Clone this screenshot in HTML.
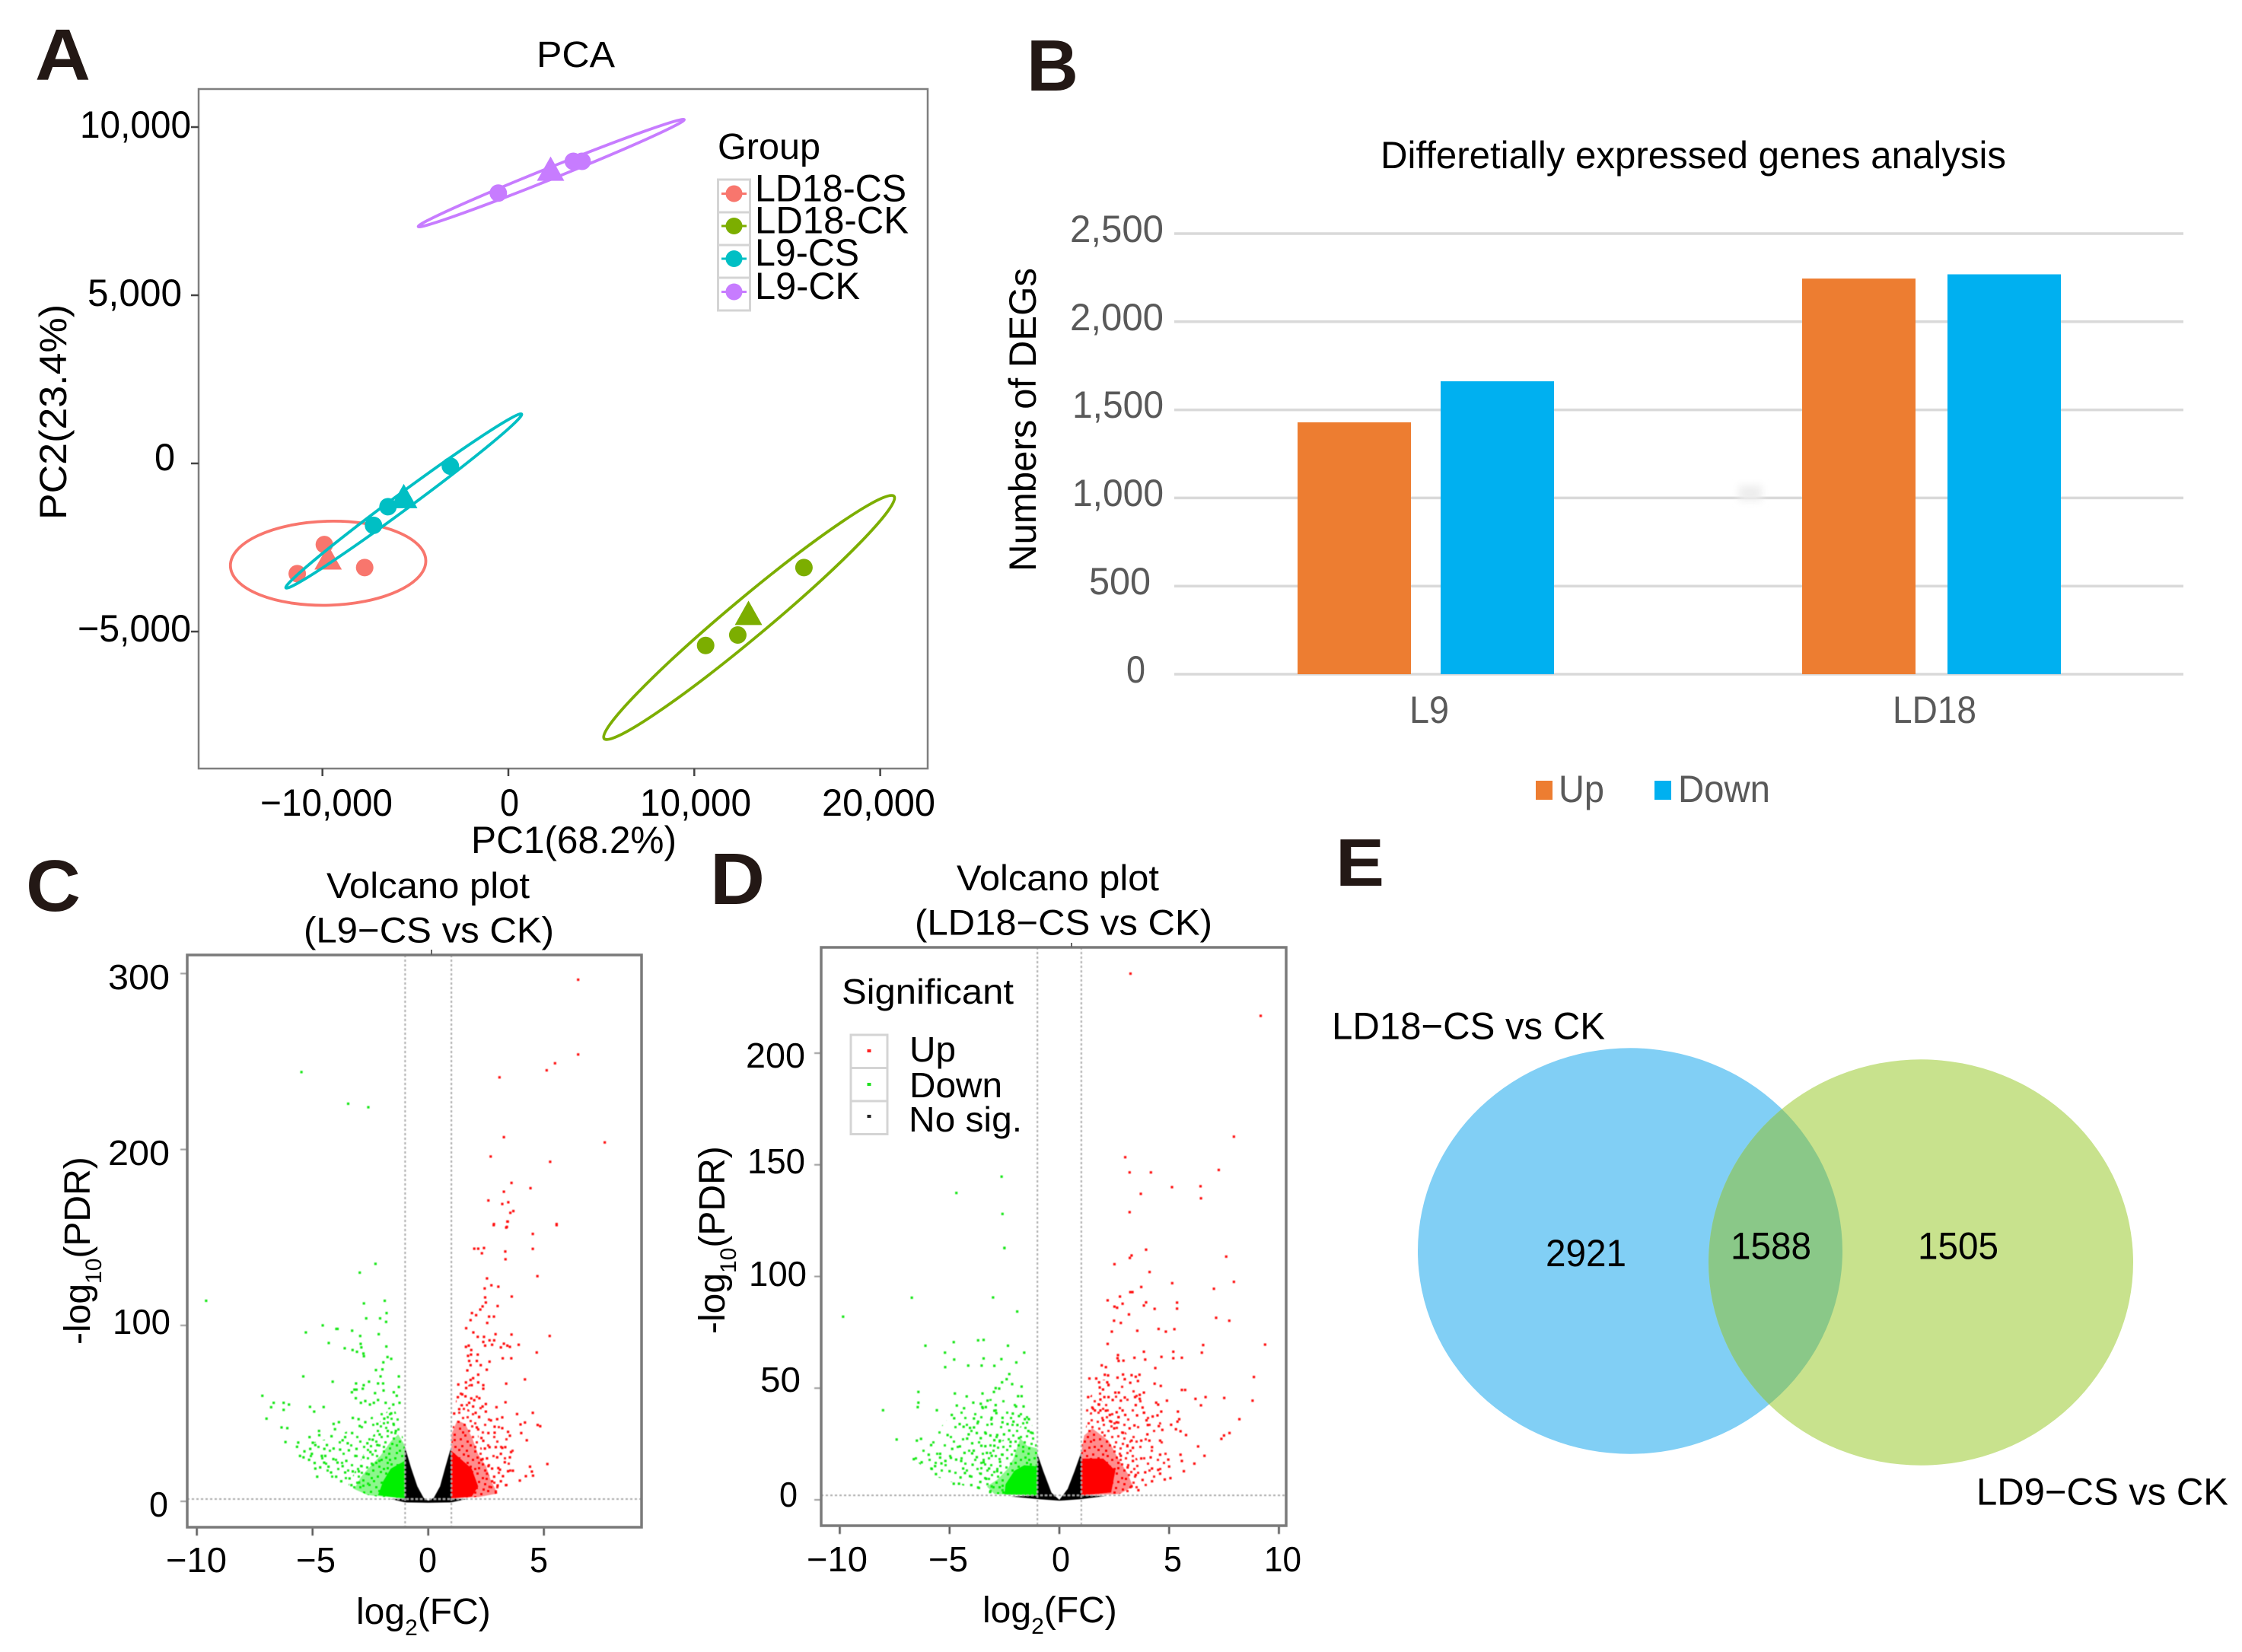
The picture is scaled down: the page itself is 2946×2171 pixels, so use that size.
<!DOCTYPE html>
<html lang="en">
<head>
<meta charset="utf-8">
<title>PCA, DEG, volcano and Venn figure</title>
<style>
html,body{margin:0;padding:0;background:#fff;}
svg{display:block;}
text{font-family:"Liberation Sans",sans-serif;fill:#000;}
.letter{font-weight:bold;fill:#231815;font-size:96px;}
.g{fill:#595959;}
</style>
</head>
<body>
<svg id="fig" xmlns="http://www.w3.org/2000/svg" width="2946" height="2171" viewBox="0 0 2946 2171">
<rect x="0" y="0" width="2946" height="2171" fill="#fff"/>
<defs>
<filter id="smudge" x="-50%" y="-50%" width="200%" height="200%"><feGaussianBlur stdDeviation="5"/></filter>
<filter id="soft" x="-2%" y="-2%" width="104%" height="104%"><feGaussianBlur stdDeviation="0.6"/></filter>
<clipPath id="venn-clip"><ellipse cx="2142" cy="1644" rx="279" ry="266.7"/></clipPath>
<path id="tileA" d="M7 2h3v3h-3zM23 9h3v3h-3zM41 4h3v3h-3zM54 14h3v3h-3zM15 19h3v3h-3zM33 21h3v3h-3zM48 27h3v3h-3zM4 30h3v3h-3zM25 34h3v3h-3zM40 38h3v3h-3zM57 40h3v3h-3zM12 45h3v3h-3zM30 49h3v3h-3zM47 52h3v3h-3zM2 55h3v3h-3zM20 57h3v3h-3zM36 11h3v3h-3zM9 11h3v3h-3zM52 33h3v3h-3zM28 1h3v3h-3z"/>
<path id="tileB" d="M17 6h3v3h-3zM33 3h3v3h-3zM49 9h3v3h-3zM3 16h3v3h-3zM26 15h3v3h-3zM42 17h3v3h-3zM56 24h3v3h-3zM10 25h3v3h-3zM20 27h3v3h-3zM36 29h3v3h-3zM50 41h3v3h-3zM6 39h3v3h-3zM17 38h3v3h-3zM31 42h3v3h-3zM44 45h3v3h-3zM55 50h3v3h-3zM23 46h3v3h-3zM8 50h3v3h-3zM38 55h3v3h-3zM26 54h3v3h-3z"/>
<path id="tileC" d="M1 7h3v3h-3zM13 1h3v3h-3zM28 8h3v3h-3zM45 13h3v3h-3zM38 22h3v3h-3zM53 5h3v3h-3zM19 13h3v3h-3zM7 21h3v3h-3zM28 26h3v3h-3zM44 33h3v3h-3zM13 33h3v3h-3zM34 36h3v3h-3zM50 19h3v3h-3zM23 40h3v3h-3zM2 44h3v3h-3zM40 48h3v3h-3zM52 56h3v3h-3zM14 52h3v3h-3zM31 57h3v3h-3zM56 31h3v3h-3z"/>
<pattern id="up-sparse" width="60" height="60" patternUnits="userSpaceOnUse"><use href="#tileA" fill="#ff2020"/></pattern>
<pattern id="up-mid" width="60" height="60" patternUnits="userSpaceOnUse"><use href="#tileB" fill="#ff2020"/><use href="#tileC" fill="#ff2020"/></pattern>
<pattern id="up-dense" width="60" height="60" patternUnits="userSpaceOnUse"><rect width="60" height="60" fill="#ff3030" fill-opacity="0.55"/><use href="#tileA" fill="#ff0000"/><use href="#tileB" fill="#ff0000"/><use href="#tileC" fill="#ff0000"/></pattern>
<pattern id="down-sparse" width="60" height="60" patternUnits="userSpaceOnUse"><use href="#tileA" fill="#22e822"/></pattern>
<pattern id="down-mid" width="60" height="60" patternUnits="userSpaceOnUse"><use href="#tileB" fill="#22e822"/><use href="#tileC" fill="#22e822"/></pattern>
<pattern id="down-dense" width="60" height="60" patternUnits="userSpaceOnUse"><rect width="60" height="60" fill="#30ee30" fill-opacity="0.55"/><use href="#tileA" fill="#00ee00"/><use href="#tileB" fill="#00ee00"/><use href="#tileC" fill="#00ee00"/></pattern>
</defs>

<!-- Panel A -->
<g>
<text class="letter" x="46" y="105" textLength="73" lengthAdjust="spacingAndGlyphs">A</text>
<text x="705" y="88" font-size="48" textLength="103" lengthAdjust="spacingAndGlyphs">PCA</text>
<rect x="261" y="117" width="958" height="893" fill="none" stroke="#7f7f7f" stroke-width="2.5"/>
<g id="pca-ticks"></g>
<g id="pca-marks"></g>
<g font-size="50">
<text x="105" y="181" textLength="146" lengthAdjust="spacingAndGlyphs">10,000</text>
<text x="115" y="402" textLength="124" lengthAdjust="spacingAndGlyphs">5,000</text>
<text x="203" y="618" textLength="27" lengthAdjust="spacingAndGlyphs">0</text>
<text x="102" y="843" textLength="149" lengthAdjust="spacingAndGlyphs">−5,000</text>
<text x="342" y="1072" textLength="174" lengthAdjust="spacingAndGlyphs">−10,000</text>
<text x="657" y="1072" textLength="25" lengthAdjust="spacingAndGlyphs">0</text>
<text x="841" y="1072" textLength="146" lengthAdjust="spacingAndGlyphs">10,000</text>
<text x="1080" y="1072" textLength="149" lengthAdjust="spacingAndGlyphs">20,000</text>
<text x="619" y="1121" textLength="270" lengthAdjust="spacingAndGlyphs">PC1(68.2%)</text>
<text x="87" y="683" transform="rotate(-90 87 683)" textLength="283" lengthAdjust="spacingAndGlyphs">PC2(23.4%)</text>
</g>
<g>
<text x="943" y="209" font-size="48" textLength="135" lengthAdjust="spacingAndGlyphs">Group</text>
<rect x="943.500" y="236" width="42" height="43" fill="#fff" stroke="#d4d4d4" stroke-width="3"/>
<rect x="943.500" y="279" width="42" height="43" fill="#fff" stroke="#d4d4d4" stroke-width="3"/>
<rect x="943.500" y="322" width="42" height="43" fill="#fff" stroke="#d4d4d4" stroke-width="3"/>
<rect x="943.500" y="365" width="42" height="43" fill="#fff" stroke="#d4d4d4" stroke-width="3"/>
<path d="M948 254.500H981" stroke="#F8766D" stroke-width="3"/>
<circle cx="964.500" cy="254.500" r="11" fill="#F8766D"/>
<path d="M948 297H981" stroke="#7CAE00" stroke-width="3"/>
<circle cx="964.500" cy="297" r="11" fill="#7CAE00"/>
<path d="M948 340H981" stroke="#00BFC4" stroke-width="3"/>
<circle cx="964.500" cy="340" r="11" fill="#00BFC4"/>
<path d="M948 383.500H981" stroke="#C77CFF" stroke-width="3"/>
<circle cx="964.500" cy="383.500" r="11" fill="#C77CFF"/>
<text x="992" y="264.500" font-size="50" textLength="199" lengthAdjust="spacingAndGlyphs">LD18-CS</text>
<text x="992" y="306.500" font-size="50" textLength="202" lengthAdjust="spacingAndGlyphs">LD18-CK</text>
<text x="992" y="349" font-size="50" textLength="137" lengthAdjust="spacingAndGlyphs">L9-CS</text>
<text x="992" y="393" font-size="50" textLength="138" lengthAdjust="spacingAndGlyphs">L9-CK</text>
</g>
</g>

<!-- Panel B -->
<g>
<text class="letter" x="1349" y="119" textLength="68" lengthAdjust="spacingAndGlyphs">B</text>
<text x="1814" y="221" font-size="50" textLength="822" lengthAdjust="spacingAndGlyphs">Differetially expressed genes analysis</text>
<g id="deg-grid"></g>
<rect x="2285" y="638" width="30" height="20" fill="#ededed" filter="url(#smudge)"/>
<g id="deg-bars"></g>
<g font-size="50" class="g">
<text class="g" x="1406" y="318" textLength="123" lengthAdjust="spacingAndGlyphs">2,500</text>
<text class="g" x="1406" y="434" textLength="123" lengthAdjust="spacingAndGlyphs">2,000</text>
<text class="g" x="1409" y="549" textLength="120" lengthAdjust="spacingAndGlyphs">1,500</text>
<text class="g" x="1409" y="665" textLength="120" lengthAdjust="spacingAndGlyphs">1,000</text>
<text class="g" x="1431" y="781" textLength="81" lengthAdjust="spacingAndGlyphs">500</text>
<text class="g" x="1480" y="897" textLength="25" lengthAdjust="spacingAndGlyphs">0</text>
<text class="g" x="1852" y="950" textLength="52" lengthAdjust="spacingAndGlyphs">L9</text>
<text class="g" x="2487" y="950" textLength="110" lengthAdjust="spacingAndGlyphs">LD18</text>
<text class="g" x="2048" y="1054" textLength="60" lengthAdjust="spacingAndGlyphs">Up</text>
<text class="g" x="2205" y="1054" textLength="121" lengthAdjust="spacingAndGlyphs">Down</text>
</g>
<rect x="2018" y="1026" width="22" height="25" fill="#ed7d31"/>
<rect x="2174" y="1026" width="22" height="25" fill="#00b0f0"/>
<text x="1361" y="751" transform="rotate(-90 1361 751)" font-size="50" textLength="399" lengthAdjust="spacingAndGlyphs">Numbers of DEGs</text>
</g>

<!-- Panel C -->
<g>
<text class="letter" x="34" y="1197" textLength="72" lengthAdjust="spacingAndGlyphs">C</text>
<text x="429" y="1180" font-size="47" textLength="267" lengthAdjust="spacingAndGlyphs">Volcano plot</text>
<text x="399" y="1238.500" font-size="47" textLength="329" lengthAdjust="spacingAndGlyphs">(L9−CS vs CK)</text>
<g id="c-plot" filter="url(#soft)"></g>
<rect x="246" y="1255" width="597" height="752" fill="none" stroke="#7a7a7a" stroke-width="3.500"/>
<line x1="567" x2="567" y1="1248" y2="1255" stroke="#666" stroke-width="2"/>
<g font-size="46">
<text x="142" y="1300" textLength="81" lengthAdjust="spacingAndGlyphs">300</text>
<text x="142" y="1531" textLength="81" lengthAdjust="spacingAndGlyphs">200</text>
<text x="148" y="1753" textLength="76" lengthAdjust="spacingAndGlyphs">100</text>
<text x="196" y="1993" textLength="25" lengthAdjust="spacingAndGlyphs">0</text>
<text x="218" y="2066" textLength="80" lengthAdjust="spacingAndGlyphs">−10</text>
<text x="389" y="2066" textLength="52" lengthAdjust="spacingAndGlyphs">−5</text>
<text x="550" y="2066" textLength="24" lengthAdjust="spacingAndGlyphs">0</text>
<text x="696" y="2066" textLength="24" lengthAdjust="spacingAndGlyphs">5</text>
</g>
<text x="468" y="2134" font-size="48">log<tspan font-size="30" dy="15">2</tspan><tspan dy="-15">(FC)</tspan></text>
<text x="118" y="1767" transform="rotate(-90 118 1767)" font-size="48">-log<tspan font-size="30" dy="15">10</tspan><tspan dy="-15">(PDR)</tspan></text>
</g>

<!-- Panel D -->
<g>
<text class="letter" x="933" y="1188" textLength="72" lengthAdjust="spacingAndGlyphs">D</text>
<text x="1257" y="1170" font-size="47" textLength="266" lengthAdjust="spacingAndGlyphs">Volcano plot</text>
<text x="1202" y="1228.500" font-size="47" textLength="391" lengthAdjust="spacingAndGlyphs">(LD18−CS vs CK)</text>
<g id="d-plot" filter="url(#soft)"></g>
<rect x="1079" y="1245" width="611" height="760" fill="none" stroke="#7a7a7a" stroke-width="3.500"/>
<line x1="1408" x2="1408" y1="1239" y2="1245" stroke="#666" stroke-width="2"/>
<g font-size="46">
<text x="980" y="1403" textLength="78" lengthAdjust="spacingAndGlyphs">200</text>
<text x="982" y="1542" textLength="76" lengthAdjust="spacingAndGlyphs">150</text>
<text x="984" y="1690" textLength="76" lengthAdjust="spacingAndGlyphs">100</text>
<text x="999" y="1829" textLength="53" lengthAdjust="spacingAndGlyphs">50</text>
<text x="1024" y="1980" textLength="24" lengthAdjust="spacingAndGlyphs">0</text>
<text x="1060" y="2065" textLength="80" lengthAdjust="spacingAndGlyphs">−10</text>
<text x="1220" y="2065" textLength="52" lengthAdjust="spacingAndGlyphs">−5</text>
<text x="1382" y="2065" textLength="24" lengthAdjust="spacingAndGlyphs">0</text>
<text x="1529" y="2065" textLength="24" lengthAdjust="spacingAndGlyphs">5</text>
<text x="1661" y="2065" textLength="49" lengthAdjust="spacingAndGlyphs">10</text>
</g>
<text x="1291" y="2132" font-size="48">log<tspan font-size="30" dy="15">2</tspan><tspan dy="-15">(FC)</tspan></text>
<text x="952" y="1753" transform="rotate(-90 952 1753)" font-size="48">-log<tspan font-size="30" dy="15">10</tspan><tspan dy="-15">(PDR)</tspan></text>
<g>
<text x="1106" y="1319" font-size="46" textLength="226" lengthAdjust="spacingAndGlyphs">Significant</text>
<rect x="1118" y="1360" width="48" height="43.500" fill="#fff" stroke="#d4d4d4" stroke-width="3"/>
<rect x="1118" y="1403.500" width="48" height="43.500" fill="#fff" stroke="#d4d4d4" stroke-width="3"/>
<rect x="1118" y="1447" width="48" height="43.500" fill="#fff" stroke="#d4d4d4" stroke-width="3"/>
<rect x="1139.500" y="1379" width="5" height="4" fill="#ff2020"/>
<rect x="1139.500" y="1423" width="5" height="4" fill="#20e020"/>
<rect x="1139.500" y="1465" width="5" height="4" fill="#222"/>
<text x="1195" y="1395" font-size="46" textLength="61" lengthAdjust="spacingAndGlyphs">Up</text>
<text x="1195" y="1442" font-size="46" textLength="122" lengthAdjust="spacingAndGlyphs">Down</text>
<text x="1194" y="1487" font-size="46" textLength="149" lengthAdjust="spacingAndGlyphs">No sig.</text>
</g>
</g>

<!-- Panel E -->
<g>
<text class="letter" x="1755" y="1164" textLength="64" lengthAdjust="spacingAndGlyphs" style="font-size:88px">E</text>
<ellipse cx="2142" cy="1644" rx="279" ry="266.7" fill="#81cff5"/>
<ellipse cx="2524" cy="1659" rx="279" ry="266.7" fill="#c8e28d"/>
<ellipse cx="2524" cy="1659" rx="279" ry="266.7" fill="#8ac888" clip-path="url(#venn-clip)"/>
<text x="1750" y="1365.500" font-size="50" textLength="359" lengthAdjust="spacingAndGlyphs">LD18−CS vs CK</text>
<text x="2597" y="1977.500" font-size="50" textLength="331" lengthAdjust="spacingAndGlyphs">LD9−CS vs CK</text>
<text x="2031" y="1664" font-size="50" textLength="106" lengthAdjust="spacingAndGlyphs">2921</text>
<text x="2274" y="1654.500" font-size="50" textLength="106" lengthAdjust="spacingAndGlyphs">1588</text>
<text x="2520" y="1654.500" font-size="50" textLength="106" lengthAdjust="spacingAndGlyphs">1505</text>
</g>
</svg>

<script>
/* ---------- Panel A data ---------- */
const pcaGroups = ['LD18-CS', 'LD18-CK', 'L9-CS', 'L9-CK'];
const pcaColors = ['#F8766D', '#7CAE00', '#00BFC4', '#C77CFF'];
const pcaXTicks = [-10000, 0, 10000, 20000];
const pcaYTicks = [10000, 5000, 0, -5000];
const pcaPc1 = [[-11356, -9898, -7729], [10610, 12339, 15898], [-7254, -6475, -3119], [-542, 3492, 3966]];
const pcaPc2 = [[-3277, -2413, -3097], [-5412, -5103, -3097], [-1842, -1288, -82], [8037, 8983, 8983]];
const pcaCentroidPc1 = [-9695, 12915, -5627, 2271];
const pcaCentroidPc2 = [-2885, -4532, -1060, 8673];
const ellipseTipAPc1 = [-14949, 5153, -11966, -4847];
const ellipseTipAPc2 = [-3049, -8184, -3701, 7042];
const ellipseTipBPc1 = [-4441, 20746, 712, 9458];
const ellipseTipBPc2 = [-2886, -978, 1467, 10222];
const ellipseAspect = [0.43, 0.103, 0.055, 0.04];

/* ---------- Panel B data ---------- */
const degCategories = ['L9', 'LD18'];
const degUp = [1429, 2245];
const degDown = [1662, 2269];
const degTicks = [0, 500, 1000, 1500, 2000, 2500];

/* ---------- Panel C data (log2FC, -log10 PDR) ---------- */
const cXTicks = [-10, -5, 0, 5];
const cYTicks = [0, 100, 200, 300];
const cFcCutoff = [-1, 1];
const cPCutoff = 1.3;
const cUpPoints = [[6.48,296.5],[6.48,254],[5.48,249],[5.12,245],[3.08,241],[7.63,204],[3.27,207],[2.7,196],[5.27,193],[3.6,181],[4.42,178],[3.27,176],[2.6,171],[3.46,170],[3.2,169],[3.68,165],[3.55,164],[2.83,157],[3.44,159],[3.4,156],[5.55,157],
[2.84,157.6],[3.42,159],[3.37,155.6],[5.55,157.6],[4.52,152],[4.52,143.5],[1.99,143.6],[2.16,143.6],[2.41,144],[2.32,141],[3.33,142],[3.34,137.6],[4.72,128],[2.54,126.7],[2.44,121],[2.73,122.8],[3.03,122],[3.61,116.4],[2.46,115.9],[2.49,113],[3,111],[2.35,110.8],[2.25,109],[1.89,107],[2.07,105.8],[2.63,105],[2.84,105],[1.83,103],[2.55,101.4],[1.64,98.4],[1.95,96],[2.91,95],[3.6,94.8],[5.25,94],[2.14,93.5],[2.41,93.5],[2.65,91.5],[2.85,91.5],[2.38,90.6],[3.27,89.6],[3.42,88.5],[3.53,87.8],[3.91,89],[2.46,88.5],[2.76,89],[3.14,87.5],[1.63,87.8],[1.75,88.5],[1.86,86],[4.69,84.6],[1.72,82.7],[1.85,83.4],[2.14,83.4],[3.22,81.3],[3.59,81.3],[1.77,79.8],[2.65,79.4],[2.1,79.8],[2.27,77.4],[1.83,77.4],[1.69,74.4],[2.53,74.8],[2.16,72],[1.94,70],[1.83,69],[4.18,69.3],[1.63,67.6],[3.37,66.9],[1.3,66.4],[2.38,66],[2.16,67.6],[1.64,64.4],[2.38,64],[1.88,66],[1.47,60.8],[1.61,59.7],[1.28,59.2],[1.86,58.5],[2.21,58.6],[1.99,57.5],[3.34,56.3],[1.45,54.6],[1.77,56],[2.49,55.3],[2.35,53.9],[2.95,53.5],[1.34,52.4],[1.94,53.9],[2.49,51],[4.52,50.3],[3.84,49.6],[1.12,49.9],[2.05,50.3],[3.2,47.7],[2.98,46.7],[2.71,46],[4.18,44.8],[3.99,43.7],[4.73,43.4],[4.84,42.7],[2.87,42.4],[2.16,40.9],[2.6,38.8],[2.87,39],[3.2,41.6],[3.45,39.5],[3.53,37.3],[4.02,38.8],[4.26,34.7],[2.38,34.4],[2.65,30.8],[2.92,30.8],[3.33,30.8],[3.2,30.4],[3.58,28],[2.98,25],[3.14,27],[3.53,25],[2.54,24.4],[5.15,21.2],[3.31,22.2],[2.76,18.6],[3.03,18.9],[3.45,17.1],[3.66,17.4],[4.4,19.7],[4.48,16.9],[4.53,14.6],[4.22,14.3],[3.96,11.8],[3.23,14.3],[2.54,15.7],[2.76,11.4],[3.14,11.4],[3.36,9.2],[2.92,5.6],[2.65,8.2],[2.1,42],[2.3,36],[2.45,30],[2.2,48],[2.35,24],[2.6,20],[2.85,14],[3,9],[3.1,18]];
const cDownPoints = [[-5.48,244],[-3.46,226],[-2.59,224],[-9.6,114],
[-2.28,135],[-2.96,130],[-2.78,112.5],[-1.88,114],[-1.8,107],[-1.82,102],[-2.08,104],[-2.68,104],[-4.56,100],[-5.29,96],[-3.92,98],[-3.97,98],[-3.29,97],[-2.94,94],[-2.14,95],[-4.3,90],[-2.92,89.5],[-2.89,87.5],[-1.81,88],[-3.61,87],[-3.27,86],[-3.08,85],[-2.8,84],[-2.78,82.5],[-1.76,82],[-1.6,81],[-1.94,79],[-1.98,75],[-2.26,74.6],[-2.06,71],[-5.4,71],[-1.27,71],[-4.13,68],[-3.12,67],[-2.79,66],[-2.83,64],[-2.17,67],[-2.56,68],[-1.95,67],[-1.27,65],[-3.19,63.5],[-3.1,63.5],[-3.3,62],[-2.3,61.5],[-1.49,62],[-1.36,60],[-1.93,63],[-3.13,58.6],[-2.17,57.6],[-2.91,56],[-2.72,57],[-2.52,55],[-2.35,56],[-1.84,56],[-1.51,55],[-1.24,56],[-7.17,60],[-6.68,56],[-6.25,56],[-6.02,55],[-6.79,53.5],[-6.25,52],[-5.11,53.7],[-4.52,53.6],[-4.93,51],[-6.99,47],[-6.34,42],[-6.09,41.6],[-6.17,33.7],[-5.62,33.4],[-5.67,31],[-5.13,36.5],[-4.72,40],[-4.71,37.6],[-4.09,44],[-3.86,45],[-4.03,41],[-3.26,47.4],[-3.01,46.7],[-2.96,42.8],[-2.72,45],[-3.29,38.8],[-4.18,37],[-3.59,36.5],[-3.7,34.7],[-4.99,33.3],[-4.88,32],[-4.49,29.8],[-4.38,32],[-5.1,29.8],[-5.35,28.4],[-5.54,25.8],[-5.39,25],[-5.15,23.6],[-5.03,27],[-4.6,25.8],[-4.45,25.8],[-4.09,30],[-3.81,29.4],[-3.48,33],[-3.43,29],[-3.1,29.8],[-2.63,33],[-4.91,21.8],[-4.88,18.6],[-4.67,19.3],[-4.31,19.7],[-3.92,22],[-3.54,23],[-3.15,25.8],[-2.88,20],[-4.2,16.4],[-3.98,14],[-3.59,16.4],[-3.26,17],[-3.76,11.4],[-3.32,9.2],[-2.99,10.7],[-2.66,15.7],[-2.39,20.7],[-2.11,23],[-1.6,50],[-1.9,47],[-2.2,44],[-1.5,44],[-1.75,40],[-2.1,38],[-2.4,35],[-1.4,40],[-2.5,28],[-2.2,32],[-2.8,25],[-3,17],[-3.4,13],[-3.7,20],[-4.1,24],[-4.5,22],[-4.8,14],[-2.6,10]];
const cNoSigEnvelope = [[-1.02,31.5],[-0.74,19],[-0.47,8.5],[-0.2,2],[0,0.3],[0.24,2],[0.51,8.5],[0.73,19],[0.99,31],[1,1.6],[1.66,1.3],[1,-0.6],[0,-0.8],[-1,-0.6],[-1.62,1.3],[-1.02,1.6]];
const cDownSparse = [[-5.56,25],[-4.91,17.9],[-4.03,10.7],[-3.15,6.3],[-2.06,2],[-1.02,1.6],[-1.02,31.6],[-1.4,54.6],[-2.06,51.7],[-3.15,41.6],[-4.25,35.9],[-5.13,33]];
const cDownMid = [[-3.48,8.5],[-2.17,2.7],[-1.02,1.6],[-1.02,31.6],[-1.51,56],[-2.06,46],[-2.5,34.4],[-2.94,22.9]];
const cDownOuter = [[-1.02,1.6],[-2.6,3.5],[-3.2,7],[-2.9,14],[-2.5,20],[-2.06,26],[-1.62,34],[-1.3,38],[-1.02,32]];
const cDownCore = [[-1.02,1.6],[-2.17,3.5],[-1.95,11.4],[-1.62,18.6],[-1.02,23]];
const cUpSparse = [[1.01,1.6],[1.88,2.7],[2.87,4.9],[3.42,8.5],[3.75,17],[3.75,31.6],[2.98,46],[2.43,57.5],[1.88,67.6],[1.23,60.4],[1.01,37.3]];
const cUpMid = [[1.01,1.6],[2.32,3.5],[2.76,8.5],[2.43,24.4],[1.99,46],[1.56,57.5],[1.17,51.7],[1.01,37.3]];
const cUpOuter = [[1,1.6],[2.2,2.5],[3,4.5],[2.7,12],[2.5,20],[2.15,27],[1.9,36],[1.6,44],[1.25,46],[1,38]];
const cUpCore = [[1,1.6],[1.88,2.7],[2.16,8.5],[1.88,18.6],[1,28.7]];

/* ---------- Panel D data (log2FC, -log10 PDR) ---------- */
const dXTicks = [-10, -5, 0, 5, 10];
const dYTicks = [0, 50, 100, 150, 200];
const dFcCutoff = [-1, 1];
const dPCutoff = 2;
const dUpPoints = [[3.24,235.6],[9.17,216.7],[7.95,162.6],[3,153.4],[7.26,147.7],[3.2,146.6],[4.17,146.6],[5.13,140],[6.43,140.4],[3.71,137],[6.45,135],[3.2,128.8],
[3.95,112],[7.6,108.9],[3.29,109.4],[3.21,108.3],[2.51,105.5],[4.11,102],[7.95,97.6],[5.14,97],[7.04,94.5],[3.73,95.3],[3.23,93],[3.33,93],[2.76,91],[2.2,89.3],[2.88,87.8],[3.95,88.4],[3.85,87],[2.51,86.5],[2.63,86],[5.36,88.3],[5.36,85.6],[4.34,85.5],[3.17,83],[7.14,81.5],[7.74,80.2],[2.49,80.2],[2.8,79.2],[2.39,75.3],[3.55,75.7],[4.52,76.5],[4.85,75.3],[5.24,76.4],[2.2,69.8],[6.55,69.3],[9.37,69.5],[6.49,65.9],[3.85,66.3],[2.67,64.8],[2.65,63.4],[3.42,63.6],[4.65,64],[5.19,66.3],[5.19,63.4],[5.58,63.6],[2.92,62.3],[2.7,62.2],[3.91,62.8],[1.93,60.2],[2.12,59.4],[4.37,59],[2.07,56],[2.22,55.7],[2.9,56.1],[3.29,55.8],[3.48,55.1],[3.65,56],[1.37,54.3],[1.68,54.3],[1.81,52.6],[2.65,54.7],[2.98,54],[8.86,55],[2.18,52.6],[3.23,52.4],[3.58,53.2],[4.34,52],[4.62,51],[1.84,50.3],[1.99,49.4],[2.24,51.5],[5.58,49.2],[5.73,49.2],[2.55,48],[2.71,48],[3.85,48],[3.66,47],[6.2,45.2],[6.66,46],[7.51,45.6],[8.8,44.4],[1.31,46],[2.05,46],[2.24,46],[2.98,45.8],[3.45,46],[1.87,44.9],[2.43,44.7],[2.8,44.4],[3.66,45.2],[4.41,43.5],[4.9,44.4],[4.5,42.6],[6.45,42.3],[1.81,42.6],[1.5,41.3],[3.48,42.4],[3.79,41.3],[1.62,40],[1.87,40],[2.12,39.9],[2.88,40],[2.61,39.2],[4.64,39.5],[5.4,39.5],[3.85,39],[3.54,37.8],[4.47,37.8],[4.25,37.3],[8.2,36.1],[5.46,36.1],[5.38,35],[3.97,35.6],[1.99,35.6],[2.36,35],[2.61,34.7],[5.09,33.6],[4.53,33],[3.42,33.3],[4.03,33.5],[4.69,31.3],[5.31,31.6],[5.52,30.7],[5.77,29],[7.75,29.9],[7.5,28.8],[7.38,27.3],[4.01,29.3],[4.59,26.5],[4.1,26.5],[3.73,26.5],[3.29,26.5],[6.32,23.9],[4.22,23.6],[3.35,23.3],[5.52,20.2],[6.61,19.7],[4.59,20.2],[4.16,19],[4.96,18],[5,14.9],[5.58,17.4],[6.15,16.2],[4.5,13.4],[5.67,12.8],[4.22,14],[4.59,11.7],[4.8,9.1],[5.06,9.7],[4.22,8.3],[3.79,8.9],[3.6,4.3],[3.91,12.3],[3.35,17.4],[3.73,18.5],[3.11,14.5],[2.8,19.7],[3.48,11.1],[3.29,6],[2.9,30],[3.1,24],[2.5,32],[2.7,37],[3,38],[3.2,32],[2.3,38]];
const dDownPoints = [[-2.63,144.7],[-4.69,137.4],[-2.59,128],[-2.5,112.8],[-9.85,82],
[-2.5,112.7],[-6.72,90.5],[-3.02,90.6],[-1.92,84.3],[-6.1,69],[-4.81,70.6],[-3.7,71.4],[-3.45,71.6],[-2.34,69],[-5.21,65.9],[-1.6,65.9],[-4.79,62.8],[-3.45,63.3],[-2.64,63],[-1.96,61.5],[-5.2,59.4],[-4.15,60.1],[-3.54,60.1],[-2.96,60],[-2.28,56.3],[-2.4,54],[-2.61,52.6],[-2.15,51.8],[-1.72,50.7],[-2.9,50],[-2.74,49.8],[-2.98,48.3],[-6.42,48.3],[-4.76,47.6],[-3.5,47.6],[-4.22,46.3],[-1.88,46.4],[-1.72,46.4],[-6.42,43.5],[-6.45,41.5],[-3.92,43.5],[-3.58,43],[-3.27,44.4],[-4.67,42.2],[-4.34,41],[-3.51,41.5],[-3.35,41.5],[-2.9,42.4],[-1.97,41.8],[-1.63,41.8],[-8.03,40.1],[-5.58,40.1],[-2.96,39.9],[-2.87,38.8],[-4.9,38],[-2.12,38.6],[-1.84,37.5],[-4.79,36.5],[-3.89,36.4],[-3.08,36.7],[-2.59,36.7],[-1.57,36.1],[-1.39,36.1],[-3.7,35],[-3.08,33.9],[-2.59,34.7],[-2.09,35],[-2.36,33.9],[-4.54,33.9],[-4.36,32.7],[-4.07,32.2],[-3.89,32.4],[-1.91,33.5],[-1.41,30.8],[-2.28,31],[-4.13,29.3],[-3.76,29.9],[-3.35,29.7],[-5.09,29],[-3.14,28.8],[-2.83,29],[-2.52,29.3],[-1.23,29.9],[-7.41,27],[-6.49,26.5],[-6.3,27.3],[-4.2,27.4],[-3.58,27.6],[-2.96,26.7],[-2.71,26.5],[-5.84,24.5],[-3.97,25.3],[-3.55,24.2],[-3.37,24],[-2.22,25.9],[-1.84,27.6],[-4.88,22.8],[-5.95,20.2],[-5.43,20.6],[-4.32,21],[-3.97,20.8],[-2.96,24.2],[-4.53,23.9],[-4.94,18.8],[-5.43,18.9],[-6.63,18.2],[-6.27,16.8],[-5.19,17.4],[-4.47,17.4],[-3.76,19.1],[-3.08,19.7],[-2.59,20.2],[-5.83,14],[-5.66,15.1],[-5.62,11.5],[-5.37,16.3],[-5,12.8],[-4.38,14],[-3.95,15.7],[-3.45,16.8],[-4.5,10],[-4.07,10.6],[-3.58,11.7],[-4.81,7.2],[-4.57,7.2],[-4.01,6.6],[-3.7,5.5],[-3.33,9.4],[-3.08,6],[-2.83,12.8],[-2.59,4.3],[-3.2,14],[-3.6,8],[-4.3,12],[-4.7,18],[-3.9,22],[-3.3,21],[-2.7,17],[-3.15,3.5]];
const dNoSigEnvelope = [[-1.01,20.8],[-0.73,12.8],[-0.36,3.2],[0,0],[0.38,4.9],[0.69,12.8],[1,21.4],[1,2],[2.1,1.7],[1,0.3],[0,-0.4],[-0.98,0.3],[-2.2,1.5],[-1.01,2]];
const dDownSparse = [[-1.01,2],[-3.08,2.6],[-3.82,4.9],[-4.69,7.2],[-5.68,10.6],[-6.67,18.5],[-5.93,26.5],[-4.94,37.8],[-3.45,44.7],[-1.84,46.9],[-1.35,37.8],[-1.01,24.2]];
const dDownMid = [[-1.01,2],[-2.96,2.6],[-3.45,7.2],[-3.82,15.1],[-2.96,24.2],[-2.09,29.9],[-1.35,36.7],[-1.01,24.2]];
const dDownOuter = [[-1.01,2],[-2.96,2.6],[-3.3,6],[-2.83,9],[-2.34,14],[-2.09,18.5],[-1.78,27.6],[-1.47,24.2],[-1.01,23]];
const dDownCore = [[-1.01,2],[-2.5,2.4],[-2.45,7],[-2.05,13],[-1.6,15.5],[-1.01,15]];
const dUpSparse = [[1,2],[3.48,3.2],[4.72,8.3],[5.21,18.5],[4.59,35.6],[3.35,53.8],[1.87,53.8],[1.31,44.7],[1,29.9]];
const dUpMid = [[1,2],[3.29,3.8],[3.73,12.8],[3.35,24.2],[2.74,35.6],[2.12,44.7],[1.5,42.4],[1.13,29.9],[1,21.4]];
const dUpOuter = [[1,2],[2.74,2.6],[3.35,6],[3.1,12],[2.74,17.4],[2.24,26.5],[1.5,32],[1.13,28.8],[1,21.4]];
const dUpCore = [[1,2],[2.36,3.3],[2.55,13],[2,18.5],[1,18.5]];

/* ---------- helpers ---------- */
const SVGNS = 'http://www.w3.org/2000/svg';
function make(parent, tag, attrs) {
  const el = document.createElementNS(SVGNS, tag);
  for (const k in attrs) el.setAttribute(k, attrs[k]);
  parent.appendChild(el);
  return el;
}
function markup(el, name) {
  
  
  return el;
}

/* ---------- Panel A ---------- */
const pcaX = v => 668 + v * 0.02443;
const pcaY = v => 609 - v * 0.0442;
const pcaTicks = document.getElementById('pca-ticks');
const pcaMarks = document.getElementById('pca-marks');
pcaXTicks.forEach(t => {
  const el = make(pcaTicks, 'line', {x1: pcaX(t), x2: pcaX(t), y1: 1010, y2: 1020, stroke: '#444', 'stroke-width': 2.5});
  
  
});
pcaYTicks.forEach(t => {
  const el = make(pcaTicks, 'line', {x1: 251, x2: 261, y1: pcaY(t), y2: pcaY(t), stroke: '#444', 'stroke-width': 2.5});
  
  
});
pcaGroups.forEach((g, i) => {
  const ax = pcaX(ellipseTipAPc1[i]), ay = pcaY(ellipseTipAPc2[i]);
  const bx = pcaX(ellipseTipBPc1[i]), by = pcaY(ellipseTipBPc2[i]);
  const half = Math.hypot(bx - ax, by - ay) / 2;
  const cx = (ax + bx) / 2, cy = (ay + by) / 2;
  const deg = Math.atan2(by - ay, bx - ax) * 180 / Math.PI;
  const ell = make(pcaMarks, 'ellipse', {cx: cx, cy: cy, rx: half, ry: half * ellipseAspect[i], fill: 'none', stroke: pcaColors[i], 'stroke-width': 3.8, transform: 'rotate(' + deg + ' ' + cx + ' ' + cy + ')'});
  
  
  pcaPc1[i].forEach((v, j) => {
    const dot = make(pcaMarks, 'circle', {cx: pcaX(v), cy: pcaY(pcaPc2[i][j]), r: 11.5, fill: pcaColors[i]});
    
    
  });
  const tx = pcaX(pcaCentroidPc1[i]), ty = pcaY(pcaCentroidPc2[i]);
  const tri = make(pcaMarks, 'polygon', {points: [tx, ty - 20, tx - 18, ty + 12, tx + 18, ty + 12].join(' '), fill: pcaColors[i]});
  
  
});

/* ---------- Panel B ---------- */
const degY = v => 886 - v * 0.2316;
const degCatX = [[1705, 1893], [2368, 2559]];
const degBarW = 149;
const degGrid = document.getElementById('deg-grid');
const degBars = document.getElementById('deg-bars');
degTicks.forEach(t => {
  const el = make(degGrid, 'line', {x1: 1543, x2: 2869, y1: degY(t), y2: degY(t), stroke: '#d9d9d9', 'stroke-width': 3.5});
  
  
});
degCategories.forEach((c, i) => {
  const up = make(degBars, 'rect', {x: degCatX[i][0], y: degY(degUp[i]), width: degBarW, height: degY(0) - degY(degUp[i]), fill: '#ed7d31'});
  
  
  const dn = make(degBars, 'rect', {x: degCatX[i][1], y: degY(degDown[i]), width: degBarW, height: degY(0) - degY(degDown[i]), fill: '#00b0f0'});
  
  
});

/* ---------- Panels C and D ---------- */
function volcano(root, cfg) {
  const X = cfg.x, Y = cfg.y;
  const poly = (pts, fill, name) => {
    const el = make(root, 'polygon', {points: pts.map(p => X(p[0]) + ',' + Y(p[1])).join(' '), fill: fill});
    markup(el, name);
  };
  const pts = (list, fill, name) => {
    list.forEach(p => {
      const el = make(root, 'rect', {x: X(p[0]) - 1.6, y: Y(p[1]) - 1.6, width: 3.2, height: 3.2, fill: fill});
      markup(el, name);
    });
  };
  poly(cfg.downSparse, 'url(#down-sparse)', 'down-density-sparse');
  poly(cfg.downMid, 'url(#down-mid)', 'down-density-mid');
  poly(cfg.downOuter, 'url(#down-dense)', 'down-density-dense');
  poly(cfg.downCore, '#00f000', 'down-density-core');
  poly(cfg.upSparse, 'url(#up-sparse)', 'up-density-sparse');
  poly(cfg.upMid, 'url(#up-mid)', 'up-density-mid');
  poly(cfg.upOuter, 'url(#up-dense)', 'up-density-dense');
  poly(cfg.upCore, '#ff0000', 'up-density-core');
  pts(cfg.down, '#19e619', 'down-gene-point');
  pts(cfg.up, '#ff1010', 'up-gene-point');
  poly(cfg.noSig, '#000', 'no-sig-gene-cloud');
  cfg.fc.forEach(v => {
    const el = make(root, 'line', {x1: X(v), x2: X(v), y1: cfg.top, y2: cfg.bottom, stroke: '#a8a8a8', 'stroke-width': 2, 'stroke-dasharray': '3 3'});
    markup(el, 'fold-change-threshold');
  });
  const h = make(root, 'line', {x1: cfg.left, x2: cfg.right, y1: Y(cfg.p), y2: Y(cfg.p), stroke: '#a8a8a8', 'stroke-width': 2, 'stroke-dasharray': '3 3'});
  markup(h, 'significance-threshold');
  cfg.xTicks.forEach(t => {
    const el = make(root, 'line', {x1: X(t), x2: X(t), y1: cfg.bottom, y2: cfg.bottom + 11, stroke: '#555', 'stroke-width': 2.5});
    markup(el, 'x-tick');
  });
  cfg.yTicks.forEach(t => {
    const el = make(root, 'line', {x1: cfg.left - 9, x2: cfg.left, y1: Y(t), y2: Y(t), stroke: '#999', 'stroke-width': 2});
    markup(el, 'y-tick');
  });
}
volcano(document.getElementById('c-plot'), {
  x: v => 562.7 + v * 30.4, y: v => 1973 - v * 2.312,
  left: 246, right: 843, top: 1255, bottom: 2007,
  xTicks: cXTicks, yTicks: cYTicks, fc: cFcCutoff, p: cPCutoff,
  up: cUpPoints, down: cDownPoints, noSig: cNoSigEnvelope,
  upSparse: cUpSparse, upMid: cUpMid, upOuter: cUpOuter, upCore: cUpCore,
  downSparse: cDownSparse, downMid: cDownMid, downOuter: cDownOuter, downCore: cDownCore
});
volcano(document.getElementById('d-plot'), {
  x: v => 1392 + v * 28.85, y: v => 1971 - v * 2.935,
  left: 1079, right: 1690, top: 1245, bottom: 2005,
  xTicks: dXTicks, yTicks: dYTicks, fc: dFcCutoff, p: dPCutoff,
  up: dUpPoints, down: dDownPoints, noSig: dNoSigEnvelope,
  upSparse: dUpSparse, upMid: dUpMid, upOuter: dUpOuter, upCore: dUpCore,
  downSparse: dDownSparse, downMid: dDownMid, downOuter: dDownOuter, downCore: dDownCore
});
</script>
</body>
</html>
